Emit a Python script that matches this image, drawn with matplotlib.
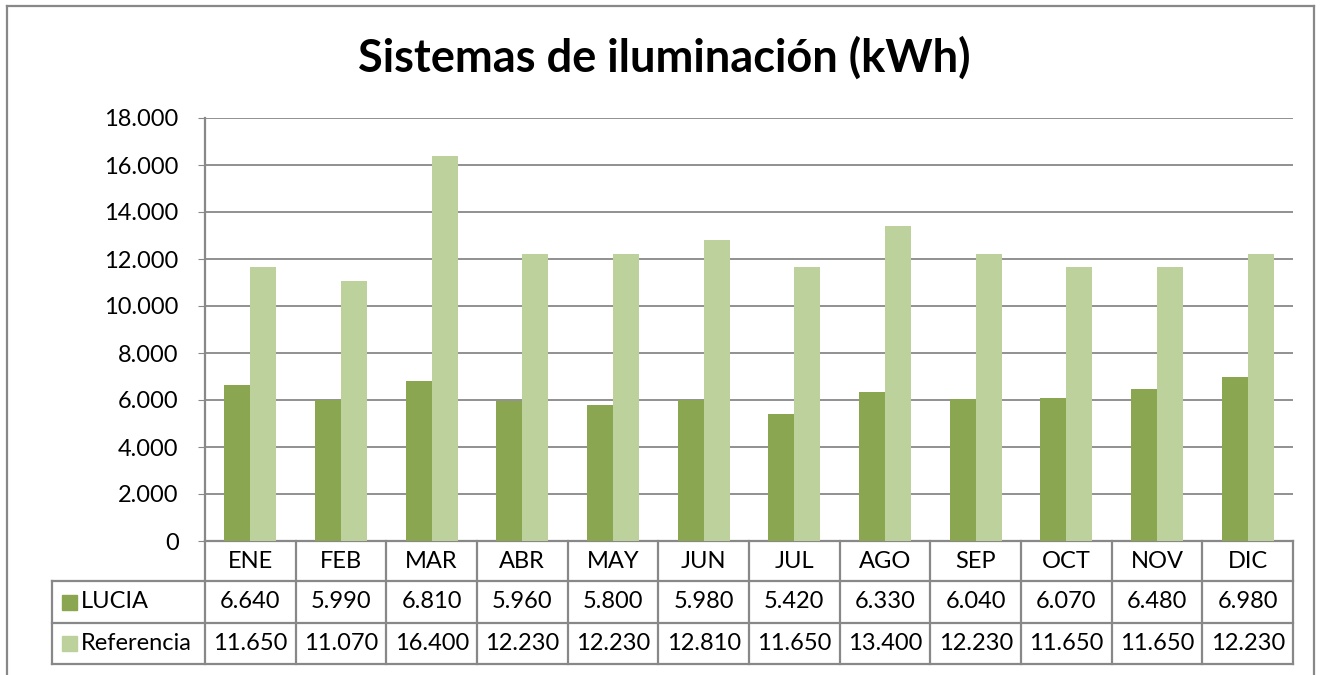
import matplotlib
matplotlib.use("Agg")
import matplotlib.pyplot as plt
from matplotlib.patches import Rectangle
from matplotlib.lines import Line2D
import matplotlib.transforms as mtransforms
from matplotlib.ticker import FuncFormatter
import numpy as np

plt.rcParams['font.family'] = ['Lato', 'DejaVu Sans']

months = ["ENE", "FEB", "MAR", "ABR", "MAY", "JUN", "JUL", "AGO", "SEP", "OCT", "NOV", "DIC"]
lucia = [6640, 5990, 6810, 5960, 5800, 5980, 5420, 6330, 6040, 6070, 6480, 6980]
referencia = [11650, 11070, 16400, 12230, 12230, 12810, 11650, 13400, 12230, 11650, 11650, 12230]
series_names = ["LUCIA", "Referencia"]

c_dark = "#8AA650"
c_light = "#BCD19B"
c_grid = "#888888"

W, H = 1325, 675
fig = plt.figure(figsize=(W / 100, H / 100), dpi=100)

def fx(px):
    return px / W

def fy(py):
    return 1 - py / H

# chart frame
for xs, ys in [([7, 7], [6, H + 5]), ([7, 1314], [6, 6]), ([1314, 1314], [6, H + 5])]:
    fig.add_artist(Line2D([fx(x) for x in xs], [fy(y) for y in ys], color=c_grid, lw=1.6))

fig.text(fx(664), fy(58), "Sistemas de iluminación (kWh)", ha="center", va="center",
         fontsize=32.5, fontweight="bold", color="black")

left, right, top, bottom = 205, 1293, 118, 541
ax = fig.add_axes([fx(left), fy(bottom), fx(right - left), (bottom - top) / H])

x = np.arange(len(months))
w = 0.285
ax.bar(x - w / 2, lucia, w, color=c_dark, zorder=3)
ax.bar(x + w / 2, referencia, w, color=c_light, zorder=3)

fs = 17

ax.set_xlim(-0.5, len(months) - 0.5)
ax.set_ylim(0, 18000)
ax.set_yticks(np.arange(0, 18001, 2000))
ax.yaxis.set_major_formatter(FuncFormatter(lambda v, p: f"{int(v):,}".replace(",", ".")))
ax.tick_params(axis="y", length=5, color=c_grid, labelsize=fs, pad=14)
ax.set_xticks([])
ax.grid(axis="y", color=c_grid, lw=1.3, zorder=0)
for s in ["top", "right"]:
    ax.spines[s].set_visible(False)
for s in ["left", "bottom"]:
    ax.spines[s].set_color(c_grid)
    ax.spines[s].set_linewidth(1.6)

# data table below the axes: x in data units, y in axes fraction
trans = mtransforms.blended_transform_factory(ax.transData, ax.transAxes)
ph = bottom - top
row_edges = [0, -(581 - bottom) / ph, -(623 - bottom) / ph, -(664 - bottom) / ph]
col_w = (right - left) / len(months)
x_left = -0.5 - (left - 52) / col_w
x_right = len(months) - 0.5

def hline(x0, x1, y):
    ax.add_line(Line2D([x0, x1], [y, y], transform=trans, color=c_grid, lw=1.6, clip_on=False))

def vline(xv, y0, y1):
    ax.add_line(Line2D([xv, xv], [y0, y1], transform=trans, color=c_grid, lw=1.6, clip_on=False))

hline(x_left, x_right, row_edges[1])
hline(x_left, x_right, row_edges[2])
hline(x_left, x_right, row_edges[3])
vline(x_left, row_edges[1], row_edges[3])
for i in range(len(months) + 1):
    vline(i - 0.5, row_edges[0], row_edges[3])

for i, m in enumerate(months):
    ymid = (row_edges[0] + row_edges[1]) / 2
    ax.text(i, ymid, m, transform=trans, ha="center", va="center", fontsize=fs)

for r, (vals, name, col) in enumerate([(lucia, series_names[0], c_dark),
                                       (referencia, series_names[1], c_light)]):
    ymid = (row_edges[r + 1] + row_edges[r + 2]) / 2
    for i, v in enumerate(vals):
        ax.text(i, ymid, f"{v:,}".replace(",", "."), transform=trans,
                ha="center", va="center", fontsize=fs)
    sq = 15 / col_w
    sq_h = 15 / ph
    ax.add_patch(Rectangle((x_left + 10 / col_w, ymid - sq_h / 2), sq, sq_h,
                           transform=trans, color=col, clip_on=False))
    ax.text(x_left + 29 / col_w, ymid, name, transform=trans, ha="left", va="center", fontsize=fs)

fig.savefig("out.png", dpi=100)
